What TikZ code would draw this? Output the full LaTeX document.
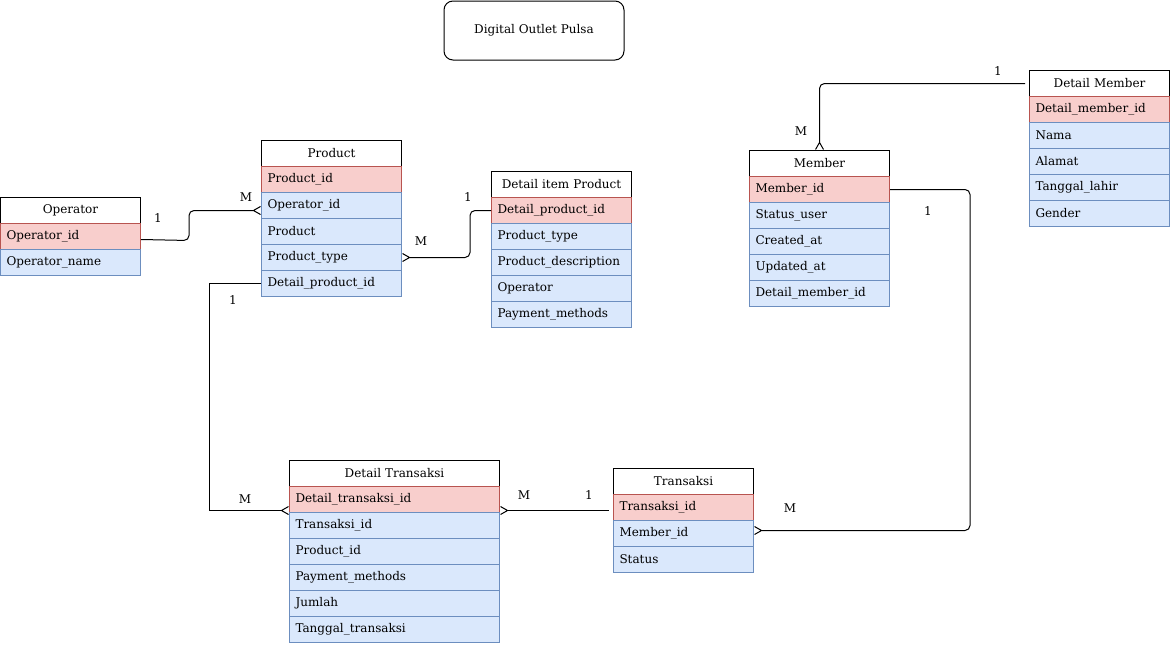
\documentclass[tikz,border=0pt]{standalone}
\usepackage{fontspec}
\setmainfont{DejaVu Serif}
\usetikzlibrary{arrows.meta}
\definecolor{pkfill}{HTML}{F8CECC}
\definecolor{pkline}{HTML}{B85450}
\definecolor{fkfill}{HTML}{DAE8FC}
\definecolor{fkline}{HTML}{6C8EBF}
\begin{document}
\begin{tikzpicture}[x=1pt,y=-1pt,line width=1pt,font=\fontsize{12}{14}\selectfont,
    hdr/.style={draw,fill=white,anchor=north west,minimum height=26pt,text width=128pt,inner xsep=6pt,inner ysep=0pt,align=center},
    pk/.style={hdr,fill=pkfill,draw=pkline,align=left},
    fk/.style={hdr,fill=fkfill,draw=fkline,align=left},
    many/.style={-{Straight Barb[reversed,length=7pt,width=8pt]}},
    manyst/.style={{Straight Barb[reversed,length=7pt,width=8pt]}-},
    card/.style={inner sep=0pt}]
    \useasboundingbox (0,0) rectangle (1170,645);
    \node[draw,rounded corners=9pt,minimum width=180pt,minimum height=59pt] (title) at (534,30.5) {Digital Outlet Pulsa};
    % Operator
    \node[hdr] (op0) at (0,197) {Operator};
    \node[pk] (op1) at (0,223) {Operator\_id};
    \node[fk] (op2) at (0,249) {Operator\_name};
    % Product
    \node[hdr] (prod0) at (261,140) {Product};
    \node[pk] (prod1) at (261,166) {Product\_id};
    \foreach \t [count=\i from 2] in {Operator\_id,Product,Product\_type,Detail\_product\_id}
        \node[fk] (prod\i) at (261,140+26*\i) {\t};
    % Detail item Product
    \node[hdr] (dip0) at (491,171) {Detail item Product};
    \node[pk] (dip1) at (491,197) {Detail\_product\_id};
    \foreach \t [count=\i from 2] in {Product\_type,Product\_description,Operator,Payment\_methods}
        \node[fk] (dip\i) at (491,171+26*\i) {\t};
    % Member
    \node[hdr] (mem0) at (749,150) {Member};
    \node[pk] (mem1) at (749,176) {Member\_id};
    \foreach \t [count=\i from 2] in {Status\_user,Created\_at,Updated\_at,Detail\_member\_id}
        \node[fk] (mem\i) at (749,150+26*\i) {\t};
    % Detail Member
    \node[hdr] (dm0) at (1029,70) {Detail Member};
    \node[pk] (dm1) at (1029,96) {Detail\_member\_id};
    \foreach \t [count=\i from 2] in {Nama,Alamat,Tanggal\_lahir,Gender}
        \node[fk] (dm\i) at (1029,70+26*\i) {\t};
    % Detail Transaksi
    \node[hdr,text width=198pt] (dt0) at (289,460) {Detail Transaksi};
    \node[pk,text width=198pt] (dt1) at (289,486) {Detail\_transaksi\_id};
    \foreach \t [count=\i from 2] in {Transaksi\_id,Product\_id,Payment\_methods,Jumlah,Tanggal\_transaksi}
        \node[fk,text width=198pt] (dt\i) at (289,460+26*\i) {\t};
    % Transaksi
    \node[hdr] (tr0) at (613,468) {Transaksi};
    \node[pk] (tr1) at (613,494) {Transaksi\_id};
    \foreach \t [count=\i from 2] in {Member\_id,Status}
        \node[fk] (tr\i) at (613,468+26*\i) {\t};
    % relations
    \draw[many,rounded corners=5pt] ([yshift=-3pt]op1.east) -- ++(48,1) |- ([yshift=-5pt]prod2.west);
    \draw[manyst,rounded corners=5pt] (prod4.east) -- ++(68,0) |- (dip1.west);
    \draw[many] (prod5.west) -- ++(-52,0) |- ([yshift=-11pt]dt1.west);
    \coordinate (dtout) at ([yshift=-11pt]dt1.east);
    \draw[manyst,shorten >=4pt] (dtout) -- (dtout -| tr1.west);
    \draw[many,rounded corners=5pt] (mem1.east) -- ++(80,0) |- ([yshift=3pt]tr2.east);
    \draw[many,rounded corners=5pt,shorten <=4pt] (dm0.west) -| (mem0.north);
    % cardinalities
    \node[card] (c1) at (158,218) {1};
    \node[card] (c2) at (246,197) {M};
    \node[card] (c3) at (468,197) {1};
    \node[card] (c4) at (421,241) {M};
    \node[card] (c5) at (233,300) {1};
    \node[card] (c6) at (245,499) {M};
    \node[card] (c7) at (524,495) {M};
    \node[card] (c8) at (589,495) {1};
    \node[card] (c9) at (928,211) {1};
    \node[card] (c10) at (790,508) {M};
    \node[card] (c11) at (998,71) {1};
    \node[card] (c12) at (801,131) {M};
\end{tikzpicture}
\end{document}
